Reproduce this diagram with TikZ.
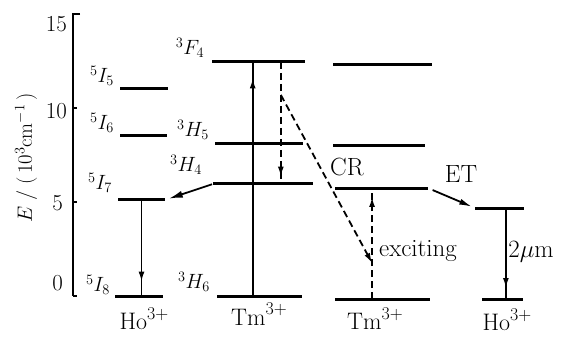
\documentclass[tikz,border=0pt]{standalone}
\usetikzlibrary{arrows.meta,calc,decorations.markings}
\tikzset{
  lvl/.style={line width=3bp},
  arr/.style={line width=1.8bp},
  dsh/.style={arr,dash pattern=on 7bp off 4bp},
  tipat/.style={postaction={decorate},decoration={markings,mark=at position #1 with {\arrow{Latex[length=10bp,width=6bp]}}}},
  lab/.style={font=\fontsize{22}{26}\selectfont,inner sep=0pt},
  word/.style={font=\fontsize{25}{30}\selectfont,inner sep=0pt},
}
\newcommand\ionname[1]{#1\raisebox{.42em}{\fontsize{18}{20}\selectfont 3+}}
\begin{document}
\begin{tikzpicture}[x=1bp,y=18.8bp]
	\useasboundingbox(0,-2.128)rectangle(568,15.745);
	% energy axis
	\draw[line width=2.8bp](80,15)--(73,15)--(73,0);
	\foreach \e in {0,5,10}\draw[line width=2bp](73,\e)--+(4,0);
	\node[lab,font=\fontsize{23}{26}\selectfont,anchor=east](t15)at(67,14.47){15};
	\node[lab,font=\fontsize{23}{26}\selectfont,anchor=east](t10)at(67,9.84){10};
	\node[lab,font=\fontsize{23}{26}\selectfont,anchor=east](t5)at(63,4.95){5};
	\node[lab,font=\fontsize{23}{26}\selectfont,anchor=east](t0)at(63,.69){0};
	\node[lab,rotate=90](elab)at(26,7.34){$E\;/\;(\,10^3\mathrm{cm}^{-1}\,)$};
	% levels
	\coordinate(hoI5-l)at(120,11.06);\coordinate(hoI5-r)at(168,11.06);
	\coordinate(hoI6-l)at(120,8.56);\coordinate(hoI6-r)at(167,8.56);
	\coordinate(hoI7-l)at(118,5.11);\coordinate(hoI7-r)at(165,5.11);
	\coordinate(hoI8-l)at(115,0);\coordinate(hoI8-r)at(163,0);
	\coordinate(tmF4-l)at(212,12.45);\coordinate(tmF4-r)at(305,12.45);
	\coordinate(tmH5-l)at(215,8.09);\coordinate(tmH5-r)at(303,8.09);
	\coordinate(tmH4-l)at(213,5.96);\coordinate(tmH4-r)at(313,5.96);
	\coordinate(tmH6-l)at(217,-.05);\coordinate(tmH6-r)at(302,-.05);
	\coordinate(tnF4-l)at(333,12.29);\coordinate(tnF4-r)at(432,12.29);
	\coordinate(tnH5-l)at(333,8.03);\coordinate(tnH5-r)at(425,8.03);
	\coordinate(tnH4-l)at(335,5.74);\coordinate(tnH4-r)at(428,5.74);
	\coordinate(tnH6-l)at(335,-.16);\coordinate(tnH6-r)at(430,-.16);
	\coordinate(hpI7-l)at(475,4.68);\coordinate(hpI7-r)at(524,4.68);
	\coordinate(hpI8-l)at(482,-.21);\coordinate(hpI8-r)at(523,-.21);
	\foreach \n in {hoI5,hoI6,hoI7,hoI8,tmF4,tmH5,tmH4,tmH6,tnF4,tnH5,tnH4,tnH6,hpI7,hpI8}
		\draw[lvl](\n-l)--(\n-r);
	% level labels
	\node[lab](lI5)at(102,11.70){$^5I_5$};
	\node[lab](lI6)at(102,9.20){$^5I_6$};
	\node[lab](lI7)at(100,6.01){$^5I_7$};
	\node[lab](lI8)at(98,.585){$^5I_8$};
	\node[lab](lF4)at(190,13.19){$^3F_4$};
	\node[lab](lH5)at(193,8.83){$^3H_5$};
	\node[lab](lH4)at(186,6.97){$^3H_4$};
	\node[lab](lH6)at(194,.745){$^3H_6$};
	\node[word,font=\fontsize{24}{28}\selectfont](ion1)at(144,-1.2){\ionname{Ho}};
	\node[word,font=\fontsize{24}{28}\selectfont](ion2)at(259,-.96){\ionname{Tm}};
	\node[word,font=\fontsize{24}{28}\selectfont](ion3)at(375,-1.2){\ionname{Tm}};
	\node[word,font=\fontsize{24}{28}\selectfont](ion4)at(507,-1.25){\ionname{Ho}};
	% transitions
	\coordinate(emA)at($(hoI7-l)!.5!(hoI7-r)$);
	\coordinate(pump)at($(tmH6-l)!.42!(tmH6-r)$);
	\coordinate(relax)at($(tmF4-l)!.74!(tmF4-r)$);
	\coordinate(exc)at($(tnH6-l)!.39!(tnH6-r)$);
	\coordinate(emB)at($(hpI7-l)!.63!(hpI7-r)$);
	\coordinate(crA)at($(relax)!.27!(relax|-tmH4-l)$);
	\coordinate(crB)at($(exc)!.325!(exc|-tnH4-l)$);
	\draw[arr,tipat=.85](emA)--(emA|-hoI8-l);
	\draw[arr,tipat=.93](pump)--(pump|-tmF4-l);
	\draw[dsh,tipat=.94](relax)--(relax|-tmH4-l);
	\draw[dsh,-{Latex[length=10bp,width=6bp]}](crA)--(crB);
	\draw[dsh,tipat=.92](exc)--(exc|-tnH4-l);
	\draw[arr,tipat=.87](emB)--(emB|-hpI8-l);
	\draw[arr,-{Latex[length=14bp,width=7bp]},shorten <=1bp,shorten >=4bp](tmH4-l)--(hoI7-r);
	\draw[arr,-{Latex[length=13bp,width=6bp]},shorten <=5bp,shorten >=3bp](tnH4-r)--(hpI7-l);
	\node[word](cr)at(347,6.86){CR};
	\node[word](et)at(461,6.49){ET};
	\node[word](exct)at(418,2.39){exciting};
	\node[word](wl)at(531,2.34){2$\mu$m};
\end{tikzpicture}
\end{document}
